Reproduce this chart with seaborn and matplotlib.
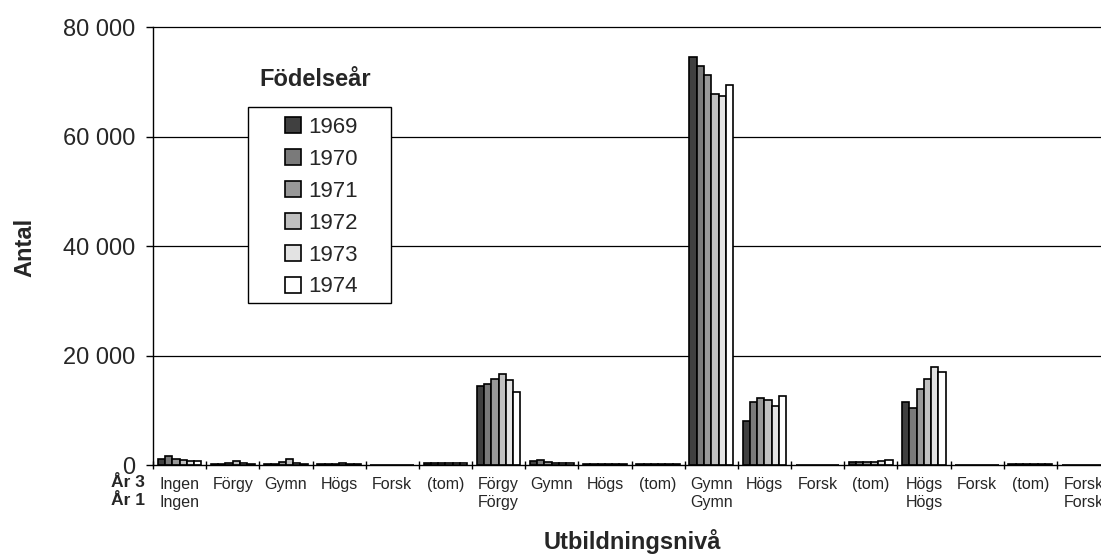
import numpy as np
import pandas as pd
import matplotlib
matplotlib.use("Agg")
import matplotlib.pyplot as plt
import matplotlib.transforms as mtransforms
import seaborn as sns
from matplotlib.patches import Patch, Rectangle

# ---------------- data ----------------
ar3_labels = ["Ingen", "Förgy", "Gymn", "Högs", "Forsk", "(tom)",
              "Förgy", "Gymn", "Högs", "(tom)",
              "Gymn", "Högs", "Forsk", "(tom)",
              "Högs", "Forsk", "(tom)",
              "Forsk"]
ar1_labels = ["Ingen", "", "", "", "", "",
              "Förgy", "", "", "",
              "Gymn", "", "", "",
              "Högs", "", "",
              "Forsk"]
years = ["1969", "1970", "1971", "1972", "1973", "1974"]

v1969 = [1050, 100, 150, 100, 0, 300, 14450, 650, 100, 250, 74600, 8100, 0, 550, 11600, 0, 150, 0]
v1970 = [1650, 200, 250, 200, 0, 300, 14750, 950, 150, 250, 72900, 11600, 0, 550, 10400, 0, 200, 0]
v1971 = [1150, 300, 600, 250, 0, 300, 15700, 600, 200, 250, 71250, 12200, 0, 500, 13850, 0, 200, 0]
v1972 = [950, 650, 1100, 450, 0, 300, 16600, 400, 250, 250, 67900, 11900, 0, 600, 15700, 0, 200, 0]
v1973 = [800, 300, 350, 200, 0, 300, 15500, 350, 250, 250, 67400, 10800, 0, 800, 18000, 0, 200, 0]
v1974 = [700, 250, 250, 150, 0, 300, 13400, 350, 250, 250, 69550, 12600, 0, 850, 16950, 0, 200, 0]
series = [v1969, v1970, v1971, v1972, v1973, v1974]

colors = ["#404040", "#7a7a7a", "#989898", "#c0c0c0", "#e3e3e3", "#ffffff"]

# ---------------- build long table ----------------
keys = [f"{i:02d}" for i in range(len(ar3_labels))]
rows = []
for y, vals in zip(years, series):
    for k, v in zip(keys, vals):
        rows.append({"cat": k, "year": y, "value": v})
df = pd.DataFrame(rows)

sns.set_theme(style="white")
plt.rcParams["font.family"] = ["Liberation Sans", "DejaVu Sans"]

W, H = 1101, 554
fig = plt.figure(figsize=(W / 100, H / 100), dpi=100)


def fx(px):
    return px / W


def fy(py):
    return 1 - py / H


left_px, right_px, top_px, bot_px = 153, 1110, 27.5, 465
ax = fig.add_axes([fx(left_px), fy(bot_px), (right_px - left_px) / W, (bot_px - top_px) / H])

sns.barplot(data=df, x="cat", y="value", hue="year", order=keys, hue_order=years,
            palette=colors, edgecolor="black", linewidth=1.2, width=0.82,
            errorbar=None, ax=ax, legend=False, saturation=1)

ax.set_ylim(0, 80000)
ax.set_xlim(-0.5, len(keys) - 0.5)
ax.set_yticks([0, 20000, 40000, 60000, 80000])
ax.set_yticklabels(["0", "20 000", "40 000", "60 000", "80 000"], fontsize=17)
for yv in [20000, 40000, 60000, 80000]:
    ax.axhline(yv, color="#000000", linewidth=0.9, zorder=0, clip_on=False)

for s in ["top", "right"]:
    ax.spines[s].set_visible(False)
for s in ["left", "bottom"]:
    ax.spines[s].set_color("black")
    ax.spines[s].set_linewidth(1.0)
    ax.spines[s].set_zorder(5)

ax.tick_params(axis="y", direction="out", length=4.8, width=1, color="black", pad=8, left=True)
ax.set_xticks([])
ax.set_xticks(np.arange(-0.5, len(keys), 1.0), minor=True)
ax.tick_params(axis="x", which="minor", direction="inout", length=6, width=1, color="black", bottom=True)
ax.set_xlabel("")
ax.set_ylabel("")

# category labels (two rows)
blend = mtransforms.blended_transform_factory(ax.transData, fig.transFigure)
for i, (a3, a1) in enumerate(zip(ar3_labels, ar1_labels)):
    ax.text(i, fy(489), a3, transform=blend, ha="center", va="baseline", fontsize=11.5)
    if a1:
        ax.text(i, fy(507), a1, transform=blend, ha="center", va="baseline", fontsize=11.5)
fig.text(fx(145), fy(487), "År 3", ha="right", va="baseline", fontsize=12.5, fontweight="bold")
fig.text(fx(145), fy(505), "År 1", ha="right", va="baseline", fontsize=12.5, fontweight="bold")

fig.text(fx(632), fy(541), "Utbildningsnivå", ha="center", va="center", fontsize=17, fontweight="bold")
fig.text(fx(25), fy(247), "Antal", ha="center", va="center", rotation=90, fontsize=17, fontweight="bold")

# legend
frame = Rectangle((fx(248), fy(302.5)), fx(391) - fx(248), fy(106.5) - fy(302.5),
                  transform=fig.transFigure, facecolor="white", edgecolor="black",
                  linewidth=1.0, zorder=3)
fig.add_artist(frame)
handles = [Patch(facecolor=c, edgecolor="black", linewidth=1.2, label=y) for c, y in zip(colors, years)]
leg = fig.legend(handles=handles, loc="upper left",
                 bbox_to_anchor=(fx(285), fy(117)), bbox_transform=fig.transFigure,
                 fontsize=16, frameon=False,
                 handlelength=0.72, handleheight=0.72, handletextpad=0.32,
                 labelspacing=0.49, borderpad=0, borderaxespad=0)
leg.set_zorder(4)
fig.text(fx(315), fy(79), "Födelseår", ha="center", va="center", fontsize=17, fontweight="bold")

fig.savefig("out.png", dpi=100)
